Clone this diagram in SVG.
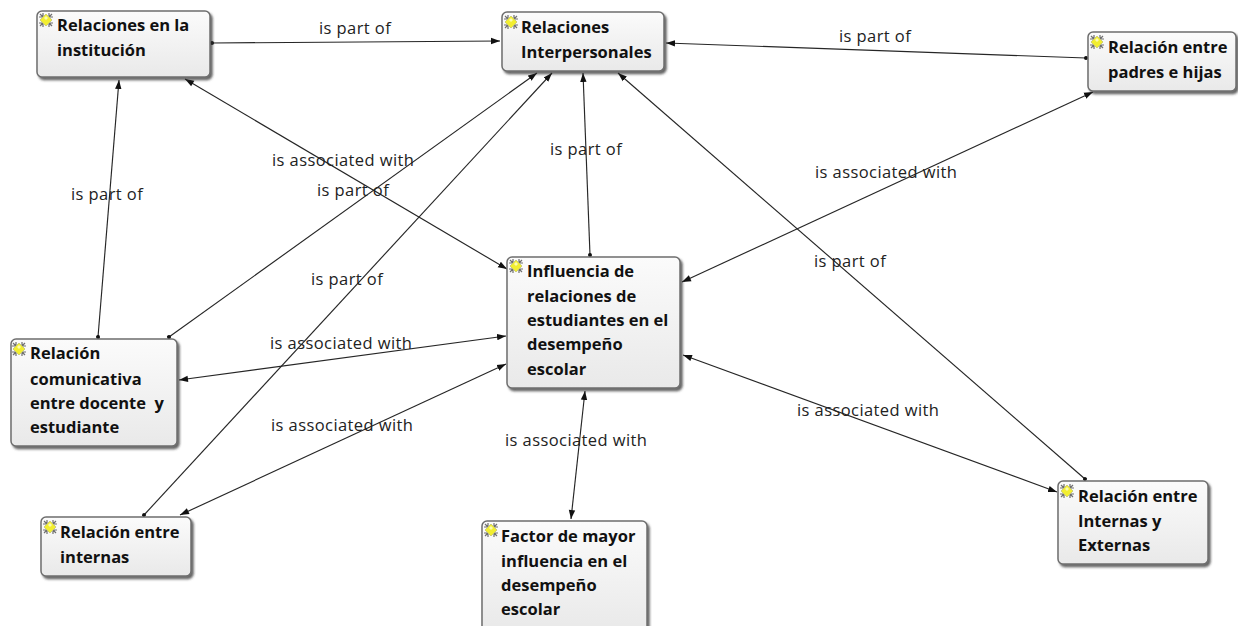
<svg xmlns="http://www.w3.org/2000/svg" width="1238" height="626" viewBox="0 0 1238 626">
<style>
.n{fill:url(#g);stroke:#6e6e6e;stroke-width:1.5;filter:url(#s)}
.t{font:bold 16.5px "Open Sans","Noto Sans",sans-serif;fill:#111}
.l{font:16.5px "Open Sans","Noto Sans",sans-serif;fill:#222;letter-spacing:.42px}
.c line{stroke:#262626;stroke-width:1.15;marker-end:url(#a)}
.c line.b{marker-start:url(#ar)}
.c line.d{marker-start:url(#o)}
</style>
<defs>
<linearGradient id="g" x1="0" y1="0" x2="0" y2="1"><stop offset="0" stop-color="#fbfbfb"/><stop offset="1" stop-color="#e9e9e9"/></linearGradient>
<filter id="s" x="-5%" y="-5%" width="112%" height="115%"><feDropShadow dx="2" dy="2.5" stdDeviation="1" flood-color="#333" flood-opacity=".75"/></filter>
<marker id="a" markerWidth="10" markerHeight="8" refX="9" refY="4" orient="auto" markerUnits="userSpaceOnUse"><path d="M0 .8L9 4L0 7.2z" fill="#111"/></marker>
<marker id="ar" markerWidth="10" markerHeight="8" refX="0" refY="4" orient="auto" markerUnits="userSpaceOnUse"><path d="M9 .8L0 4L9 7.2z" fill="#111"/></marker>
<marker id="o" markerWidth="5" markerHeight="5" refX="2.5" refY="2.5" orient="auto" markerUnits="userSpaceOnUse"><circle cx="2.5" cy="2.5" r="2" fill="#111"/></marker>
<g id="i"><path d="M-6-6L6 6M-6 6L6-6M-3-7V-4M3-7V-4M-3 7V4M3 7V4M-7-3H-4M-7 3H-4M7-3H4M7 3H4" stroke="#707070" stroke-width="1.2"/><path d="M0-6L6 0L0 6L-6 0z" fill="#f2ee30" stroke="#c4c470" stroke-width=".8"/><path d="M-2-2L0-4L2-2L0 0z" fill="#fbfbb0"/></g>
</defs>
<rect width="1238" height="626" fill="#fff"/>
<g id="connectors" class="c">
<line class="d" x1="212" y1="43" x2="500" y2="41"/>
<line class="d" x1="1086" y1="58" x2="666" y2="43"/>
<line class="b" x1="185" y1="79" x2="507" y2="269"/>
<line class="d" x1="98" y1="337" x2="119" y2="80"/>
<line class="d" x1="169" y1="337" x2="537" y2="73"/>
<line class="d" x1="144" y1="515" x2="552" y2="73"/>
<line class="d" x1="590" y1="255" x2="583" y2="73"/>
<line class="d" x1="1085" y1="479" x2="618" y2="73"/>
<line class="b" x1="682" y1="282" x2="1093" y2="92"/>
<line class="b" x1="179" y1="380" x2="506" y2="336"/>
<line class="b" x1="180" y1="515" x2="506" y2="364"/>
<line class="b" x1="571" y1="519" x2="585" y2="391"/>
<line class="b" x1="683" y1="355" x2="1057" y2="492"/>
</g>
<g id="edge-labels" class="l">
<text x="319" y="34">is part of</text>
<text x="839" y="42">is part of</text>
<text x="272" y="166">is associated with</text>
<text x="317" y="196">is part of</text>
<text x="71" y="200">is part of</text>
<text x="550" y="155">is part of</text>
<text x="815" y="178">is associated with</text>
<text x="814" y="267">is part of</text>
<text x="311" y="285">is part of</text>
<text x="270" y="349">is associated with</text>
<text x="271" y="431">is associated with</text>
<text x="505" y="446">is associated with</text>
<text x="797" y="416">is associated with</text>
</g>
<g id="n1"><rect class="n" x="37" y="11" width="173" height="66" rx="5"/><use href="#i" x="46" y="20"/><text class="t" x="57" y="31">Relaciones en la</text><text class="t" x="57" y="56">institución</text></g>
<g id="n2"><rect class="n" x="502" y="12" width="162" height="59" rx="5"/><use href="#i" x="511" y="22"/><text class="t" x="521" y="33">Relaciones</text><text class="t" x="521" y="58">Interpersonales</text></g>
<g id="n3"><rect class="n" x="1088" y="32" width="148" height="59" rx="5"/><use href="#i" x="1097" y="42"/><text class="t" x="1108" y="53">Relación entre</text><text class="t" x="1108" y="78">padres e hijas</text></g>
<g id="n4"><rect class="n" x="507" y="257" width="173" height="131" rx="5"/><use href="#i" x="516" y="266"/><text class="t" x="527" y="277">Influencia de</text><text class="t" x="527" y="302">relaciones de</text><text class="t" x="527" y="326">estudiantes en el</text><text class="t" x="527" y="350">desempeño</text><text class="t" x="527" y="375">escolar</text></g>
<g id="n5"><rect class="n" x="11" y="339" width="166" height="107" rx="5"/><use href="#i" x="19" y="349"/><text class="t" x="30" y="359">Relación</text><text class="t" x="30" y="385">comunicativa</text><text class="t" x="30" y="409" xml:space="preserve">entre docente  y</text><text class="t" x="30" y="433">estudiante</text></g>
<g id="n6"><rect class="n" x="41" y="517" width="150" height="59" rx="5"/><use href="#i" x="50" y="527"/><text class="t" x="60" y="538">Relación entre</text><text class="t" x="60" y="563">internas</text></g>
<g id="n7"><rect class="n" x="482" y="521" width="165" height="110" rx="5"/><use href="#i" x="491" y="530"/><text class="t" x="501" y="542">Factor de mayor</text><text class="t" x="501" y="567">influencia en el</text><text class="t" x="501" y="591">desempeño</text><text class="t" x="501" y="615">escolar</text></g>
<g id="n8"><rect class="n" x="1058" y="481" width="150" height="83" rx="5"/><use href="#i" x="1067" y="491"/><text class="t" x="1078" y="502">Relación entre</text><text class="t" x="1078" y="527">Internas y</text><text class="t" x="1078" y="551">Externas</text></g>
</svg>
